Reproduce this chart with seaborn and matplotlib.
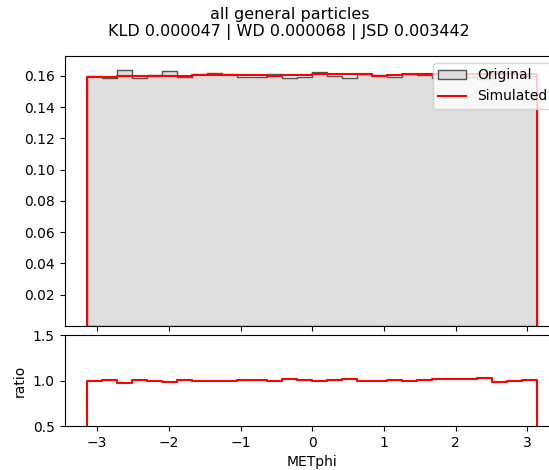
import numpy as np
import pandas as pd
import matplotlib
matplotlib.use("Agg")
import matplotlib.pyplot as plt
import seaborn as sns
from matplotlib.patches import Patch
from matplotlib.lines import Line2D

# ---- data (density per bin, 30 bins over [-pi, pi]) ----
n_bins = 30
bin_range = (-np.pi, np.pi)
original = [0.1600, 0.1583, 0.1639, 0.1585, 0.1606, 0.1629, 0.1591, 0.1614, 0.1620, 0.1611,
            0.1593, 0.1592, 0.1613, 0.1585, 0.1595, 0.1625, 0.1602, 0.1588, 0.1611, 0.1607,
            0.1593, 0.1611, 0.1607, 0.1584, 0.1584, 0.1593, 0.1578, 0.1629, 0.1616, 0.1599]
simulated = [0.1592, 0.1594, 0.1596, 0.1596, 0.1600, 0.1600, 0.1602, 0.1603, 0.1605, 0.1605,
             0.1604, 0.1603, 0.1602, 0.1604, 0.1606, 0.1612, 0.1613, 0.1613, 0.1611, 0.1601,
             0.1604, 0.1611, 0.1613, 0.1612, 0.1612, 0.1611, 0.1613, 0.1611, 0.1610, 0.1610]
title_lines = ["all general particles", "KLD 0.000047 | WD 0.000068 | JSD 0.003442"]
xlabel = "METphi"
main_yticks = [0.02, 0.04, 0.06, 0.08, 0.10, 0.12, 0.14, 0.16]
ratio_yticks = [0.5, 1.0, 1.5]
xticks = [-3, -2, -1, 0, 1, 2, 3]

bin_edges = np.linspace(bin_range[0], bin_range[1], n_bins + 1)
centers = 0.5 * (bin_edges[:-1] + bin_edges[1:])
df = pd.DataFrame({"x": centers, "orig": original, "sim": simulated})
df["ratio"] = df["sim"] / df["orig"]


def step_outline(heights):
    """Outline like matplotlib histtype='step': drops to zero at both ends."""
    h = np.asarray(heights, dtype=float)
    xs = np.concatenate([[bin_edges[0]], np.repeat(bin_edges, 2)[1:-1], [bin_edges[-1]]])
    ys = np.concatenate([[0.0], np.repeat(h, 2), [0.0]])
    return pd.DataFrame({"x": xs, "y": ys})


fig = plt.figure(figsize=(5.49, 4.70), dpi=100)
ax = fig.add_axes([0.1175, 0.3064, 0.9026, 0.5745])
axr = fig.add_axes([0.1175, 0.0936, 0.9026, 0.1936], sharex=ax)

sns.histplot(data=df, x="x", weights="orig", bins=n_bins, binrange=bin_range, element="step", fill=True,
             color="#dedede", alpha=1.0, edgecolor="#555555", linewidth=1.0, ax=ax)
sim_line = step_outline(df["sim"])
sns.lineplot(data=sim_line, x="x", y="y", sort=False, estimator=None, color="red",
             linewidth=1.5, ax=ax)
ratio_line = step_outline(df["ratio"])
sns.lineplot(data=ratio_line, x="x", y="y", sort=False, estimator=None, color="red",
             linewidth=1.5, ax=axr)

ax.set_xlim(-3.456, 3.456)
ax.set_ylim(0, 0.1727)
ax.set_yticks(main_yticks)
ax.set_ylabel("")
ax.set_xlabel("")
ax.tick_params(labelbottom=False)

axr.set_ylim(0.5, 1.5)
axr.set_yticks(ratio_yticks)
axr.set_xticks(xticks)
axr.set_ylabel("ratio")
axr.set_xlabel(xlabel)

handles = [Patch(facecolor="#dedede", edgecolor="#555555", label="Original"),
           Line2D([0], [0], color="red", lw=1.5, label="Simulated")]
ax.legend(handles=handles, loc="upper right")

fig.suptitle("\n".join(title_lines), x=0.527, y=0.985, fontsize=11.5)
fig.savefig("out.png", dpi=100)
